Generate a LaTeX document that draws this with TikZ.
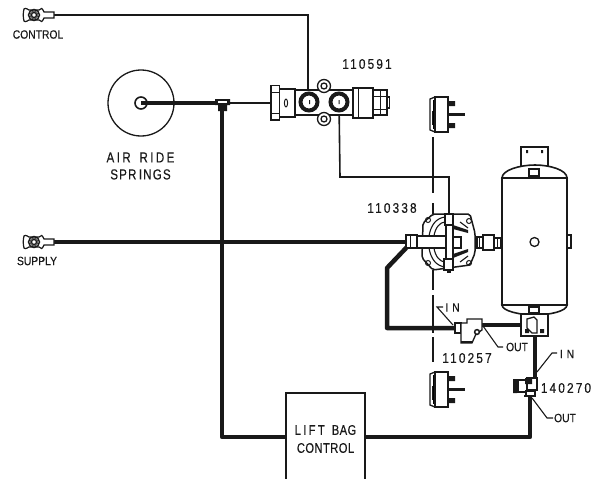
\documentclass[tikz,border=0pt]{standalone}
\usepackage{fontspec}
\setmainfont{Liberation Sans}
\newfontfamily\tinyfont[FakeStretch=0.86,FakeBold=0.25]{Liberation Sans}
\newfontfamily\numft[FakeStretch=0.85,LetterSpace=15,FakeBold=0.2]{Liberation Sans}
\newfontfamily\boxft[FakeStretch=0.8,LetterSpace=3,FakeBold=0.25]{Liberation Sans}
\newfontfamily\wideft[FakeStretch=0.8,LetterSpace=8,FakeBold=0.15]{Liberation Sans}
\begin{document}
\begin{tikzpicture}[x=1pt,y=-1pt,
  ink/.style={draw=black!90},
  part/.style={draw=black!90,line width=1.3pt,fill=white},
  thinp/.style={draw=black!90,line width=1.6pt},
  midp/.style={draw=black!90,line width=2.6pt},
  thickp/.style={draw=black!90,line width=4.5pt,line join=round},
  leader/.style={draw=black!90,line width=1.1pt},
  lab/.style={inner sep=0pt,text=black!90,font=\tinyfont\fontsize{12}{14}\selectfont},
  partno/.style={inner sep=0pt,text=black!90,font=\numft\fontsize{14}{16}\selectfont},
  boxlab/.style={inner sep=0pt,text=black!90,align=center,font=\boxft\fontsize{14}{18}\selectfont},
  widelab/.style={inner sep=0pt,text=black!90,align=center,font=\wideft\fontsize{14.5}{17}\selectfont},
  gland/.pic={
    \draw[part,line width=1.2pt] (-6,-5) .. controls (-9,-7) and (-11,-7) .. (-11,-6) .. controls (-12,-2) and (-12,2) .. (-11,6) .. controls (-11,7) and (-9,7) .. (-6,5) -- (4,5) .. controls (6,7) and (8,7) .. (8,5) -- (9,3) -- (19,3) -- (19,-3) -- (9,-3) -- (8,-5) .. controls (8,-7) and (6,-7) .. (4,-5) -- cycle;
    \draw[line width=1.4pt,black!90] (-1,0) circle (5.5) circle (2.6);
    \draw[line width=0.9pt,black!70] (-1,0) circle (4);
  },
  chamber/.pic={
    \draw[part,line width=1.3pt] (0,2) -- (5,0) -- (5,35) -- (0,33) -- cycle;
    \draw[part,line width=1.3pt] (5,0) rectangle (18,35);
    \fill[black!90] (2,14) rectangle (4.5,28);
    \draw[line width=0.9pt] (3,3) -- (3,32);
    \fill[black!90] (18,4) rectangle (25,9) (18,26) rectangle (25,31);
    \fill[black!90] (18,16) rectangle (35,19);
  }]
\useasboundingbox (0,0) rectangle (600,479);
\fill[white] (0,0) rectangle (600,479);

% coordinates
\coordinate (ctrl) at (47,15);
\coordinate (ctrlcorner) at (308,15);
\coordinate (portL) at (309,102);
\coordinate (portR) at (339,102);
\coordinate (ride) at (141,103);
\coordinate (tee) at (222,103);
\coordinate (nut) at (271,103);
\coordinate (sup) at (46,242);
\coordinate (relay) at (407,242);
\coordinate (relayTop) at (449,214);
\coordinate (relayOut) at (407,247);
\coordinate (t257in) at (457,328);
\coordinate (t257out) at (481,325);
\coordinate (brk) at (525,325);
\coordinate (brkdown) at (535,335);
\coordinate (v140in) at (535,378);
\coordinate (v140out) at (530,396);

% dashed centre line
\draw[thinp] (433,137) -- (433,193) (433,203) -- (433,214) (433,270) -- (433,290) (433,295) -- (433,333) (433,337) -- (433,362);

% air lines
\draw[thinp] (ctrl) -- (ctrlcorner) -- (308,92);
\draw[thinp] (portR) -- (340,177) -- (449,177) -- (relayTop);
\draw[thickp] (ride) -- (tee);
\draw[midp] (tee) -- (nut);
\draw[thickp] (tee) -- (222,437) -- (290,437);
\draw[thickp] (360,437) -- (530,437) -- (v140out);
\draw[thickp] (sup) -- (relay);
\draw[thickp] (relayOut) -- (387,268) -- (387,328) -- (t257in);
\draw[thickp] (t257out) -- (brk);
\draw[thickp] (brkdown) -- (v140in);

% gladhands
\pic at (35,15) {gland};
\pic at (35,242) {gland};

% springs
\node[circle,draw=black!90,line width=1.3pt,minimum size=66pt,inner sep=0pt] (spring) at (ride) {};
\draw[line width=1.6pt,black!90,fill=white] (ride) circle (6);
\fill[black!90] (141,100.8) rectangle (150,105.2);

% tee
\fill[black!90] (215,99) rectangle (230,105) (218,105) rectangle (227,111);
\fill[white] (218,100.5) rectangle (227,103);

% valve 110591
\draw[part] (295,90) rectangle (353,115);
\draw[part] (324,86) circle (6.5);
\draw[part] (324,86) circle (3);
\draw[part] (324,119) circle (6.5);
\draw[part] (324,119) circle (3);
\draw[part] (279.5,89) rectangle (295,117);
\draw[part] (271,85.7) rectangle (279.5,120);
\draw[ink,line width=.9pt] (271,92) -- (279.5,92) (271,113) -- (279.5,113);
\draw[ink,line width=1pt] (286,103) ellipse (1.6 and 4);
\draw[part] (353,88) rectangle (373,118);
\draw[ink,line width=.9pt] (358,88) -- (358,118);
\draw[part] (373,90) rectangle (387,115);
\draw[ink,line width=.9pt] (373,96) -- (387,96) (373,109) -- (387,109) (380,90) -- (380,115);
\draw[part] (387,97) rectangle (389.5,108);
\draw[draw=black!90,line width=4pt,fill=white] (portL) circle (8.5);
\draw[draw=black!90,line width=4pt,fill=white] (portR) circle (8.5);
\fill[black!90] (309,100) rectangle (310,104) (338.5,100) rectangle (339.5,104);

% tank
\draw[part] (521,147) rectangle (548,170);
\fill[black!90] (526,150) rectangle (528,153) (541,150) rectangle (543,153);
\draw[part,line width=1.6pt] (502,178) .. controls (502,170) and (520,165) .. (535,165) .. controls (550,165) and (567,170) .. (567,178) -- cycle;
\draw[part,line width=1.6pt] (502,178) rectangle (567,305);
\draw[part,line width=1.6pt] (502,305) .. controls (502,311) and (520,315) .. (535,315) .. controls (550,315) and (567,311) .. (567,305) -- cycle;
\draw[part] (529,169) rectangle (539,176);
\draw[part] (567,235) rectangle (571,248);
\draw[ink,line width=1.3pt] (534.5,242) circle (4.5);
\draw[part] (521,314) rectangle (548,336);
\draw[part] (529,307) rectangle (539,313);
\fill[black!90] (525,329) rectangle (529,333) (540,329) rectangle (544,333);
\draw[part] (527,319) -- (534,317) -- (537,320) -- (537,333) -- (532,333) -- (527,328) -- cycle;

% relay 110338
\draw[part,line width=1.5pt,rounded corners=2pt] (423,223) -- (433,214) -- (470,214) -- (475,233) -- (475,253) -- (470,265) -- (433,270) -- (422,258) -- cycle;
\draw[ink,line width=1.1pt] (429,236) .. controls (431,224) and (437,218) .. (445,217) (429,248) .. controls (431,260) and (437,266) .. (445,267);
\draw[ink,line width=1.1pt] (434,236) .. controls (435,228) and (440,222) .. (445,222) (434,248) .. controls (435,256) and (440,262) .. (445,262);
\foreach \p in {(428,220),(469,221),(428,263),(469,263)} \draw[ink,line width=1pt] \p circle (2.5);
\draw[part] (445,214) rectangle (453,225);
\draw[part] (444,259) rectangle (453,270);
\draw[part] (446,225) rectangle (453,259);
\draw[part] (417,236) rectangle (446,248);
\draw[part] (406,235) rectangle (417,248);
\draw[ink,line width=.9pt] (410,235) -- (410,248);
\draw[part] (453,237) rectangle (461,248);
\fill[black!90] (453,225) -- (468,230) -- (468,233) -- (453,229) -- cycle;
\fill[black!90] (453,258) -- (468,252) -- (468,249) -- (453,254) -- cycle;
\draw[ink,line width=1.1pt] (460,222) -- (468,228) (460,262) -- (468,256);
\fill[black!90] (447,271) rectangle (451,273);
\draw[part] (477,237) rectangle (483,248);
\draw[part] (483,235) rectangle (494,250);
\draw[part] (494,238) rectangle (501,248);
\draw[ink,line width=.9pt] (479,237) -- (479,248) (497,238) -- (497,248);

% tee 110257
\draw[part] (455,323) rectangle (461,333);
\draw[part] (461,323) -- (467,323) -- (467,319) -- (482,319) -- (482,330) -- (476,334) -- (472,343) -- (461,343) -- cycle;
\fill[black!90] (461,341) rectangle (472,343);
\draw[draw=black!90,line width=1.5pt,fill=white] (477,332) circle (2.4);

% valve 140270
\draw[part] (527,378) rectangle (537,390);
\draw[part] (518,380) rectangle (527,392);
\fill[black!90] (513,379) rectangle (517,393) (525,378) rectangle (532,384);
\draw[part] (526,391) rectangle (535,396);
\fill[black!90] (524,395) rectangle (534,397);

% chambers
\pic at (430,97) {chamber};
\pic at (430,372) {chamber};

% leaders
\draw[leader] (443,307) -- (437,307) -- (453,325);
\draw[leader] (503,347) -- (498,347) -- (483,326);
\draw[leader] (557,353) -- (552,353) -- (537,372);
\draw[leader] (553,418) -- (547,418) -- (532,398);

% lift bag box
\draw[part,line width=1.4pt] (286,479) -- (286,393) -- (365,393) -- (365,479);
\node[boxlab] (boxt) at (325.5,439) {L\,I\,F\,T\ \ BAG\\CONTROL};

% labels
\node[lab] (lc) at (38,34.5) {CONTROL};
\node[lab] (ls) at (37,261) {SUPPLY};
\node[partno] (n1) at (367,64) {110591};
\node[partno] (n2) at (392,208) {110338};
\node[partno] (n3) at (467,358) {110257};
\node[partno] (n4) at (566,388) {140270};
\node[widelab] (ar) at (140.5,166) {A\,I\,R\ \ R\,I\,D\,E\\SPR\,INGS};
\node[lab] (i1) at (452.5,307.5) {I\,\,N};
\node[lab] (o1) at (517,347) {OUT};
\node[lab] (i2) at (567,354) {I\,\,N};
\node[lab] (o2) at (565,418) {OUT};
\end{tikzpicture}
\end{document}
